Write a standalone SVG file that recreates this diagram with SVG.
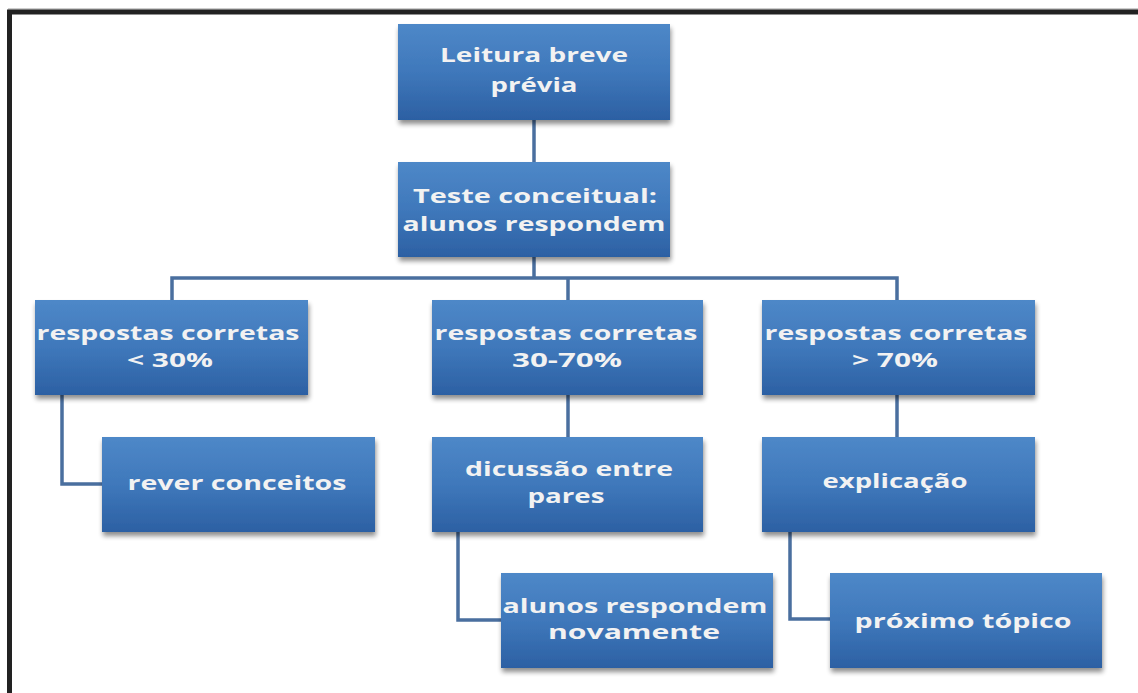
<svg xmlns="http://www.w3.org/2000/svg" width="1138" height="693" viewBox="0 0 1138 693">
<defs>
<linearGradient id="bg" x1="0" y1="0" x2="0" y2="1">
<stop offset="0" stop-color="#4e88c8"/>
<stop offset="0.5" stop-color="#3f78bb"/>
<stop offset="1" stop-color="#2c60a3"/>
</linearGradient>
<filter id="sh" x="-5%" y="-5%" width="112%" height="120%">
<feGaussianBlur in="SourceAlpha" stdDeviation="2.5"/>
<feOffset dx="1" dy="4" result="b"/>
<feComponentTransfer><feFuncA type="linear" slope="0.45"/></feComponentTransfer>
<feMerge><feMergeNode/><feMergeNode in="SourceGraphic"/></feMerge>
</filter>
</defs>
<style>
.box{fill:url(#bg);filter:url(#sh)}
.t{font-family:"Open Sans","Liberation Sans",sans-serif;font-weight:bold;font-size:20px;fill:#f2f2f2;text-anchor:middle}
.c{fill:none;stroke:#4a6f9f;stroke-width:3.5}
</style>
<rect x="0" y="0" width="1138" height="693" fill="#ffffff"/>
<line x1="8" y1="9" x2="1138" y2="9" stroke="#9a9a9a" stroke-width="1"/>
<path d="M9.5,693 V12 H1138" fill="none" stroke="#222222" stroke-width="5"/>
<g id="connectors">
<line class="c" x1="534" y1="120" x2="534" y2="162"/>
<line class="c" x1="534" y1="257" x2="534" y2="278"/>
<path class="c" d="M172,300 V278 H897 V300"/>
<line class="c" x1="568" y1="278" x2="568" y2="300"/>
<path class="c" d="M62,395 V484 H102"/>
<line class="c" x1="568" y1="395" x2="568" y2="437"/>
<line class="c" x1="897" y1="395" x2="897" y2="437"/>
<path class="c" d="M458,532 V620 H501"/>
<path class="c" d="M790,532 V619 H830"/>
</g>
<g id="n1"><rect class="box" x="398" y="24" width="272" height="96"/>
<text class="t" x="534" y="62" textLength="188" lengthAdjust="spacingAndGlyphs">Leitura breve</text>
<text class="t" x="534" y="92" textLength="87" lengthAdjust="spacingAndGlyphs">prévia</text></g>
<g id="n2"><rect class="box" x="398" y="162" width="272" height="95"/>
<text class="t" x="535" y="203" textLength="244" lengthAdjust="spacingAndGlyphs">Teste conceitual:</text>
<text class="t" x="534" y="231" textLength="263" lengthAdjust="spacingAndGlyphs">alunos respondem</text></g>
<g id="n3"><rect class="box" x="35" y="300" width="273" height="95"/>
<text class="t" x="168" y="340" textLength="263" lengthAdjust="spacingAndGlyphs">respostas corretas</text>
<text class="t" x="170" y="367" textLength="86" lengthAdjust="spacingAndGlyphs">&lt; 30%</text></g>
<g id="n4"><rect class="box" x="432" y="300" width="271" height="95"/>
<text class="t" x="566" y="340" textLength="263" lengthAdjust="spacingAndGlyphs">respostas corretas</text>
<text class="t" x="567" y="367" textLength="110" lengthAdjust="spacingAndGlyphs">30-70%</text></g>
<g id="n5"><rect class="box" x="762" y="300" width="273" height="95"/>
<text class="t" x="896" y="340" textLength="263" lengthAdjust="spacingAndGlyphs">respostas corretas</text>
<text class="t" x="895" y="367" textLength="86" lengthAdjust="spacingAndGlyphs">&gt; 70%</text></g>
<g id="n6"><rect class="box" x="102" y="437" width="273" height="95"/>
<text class="t" x="237" y="490" textLength="219" lengthAdjust="spacingAndGlyphs">rever conceitos</text></g>
<g id="n7"><rect class="box" x="432" y="437" width="271" height="95"/>
<text class="t" x="569" y="476" textLength="208" lengthAdjust="spacingAndGlyphs">dicussão entre</text>
<text class="t" x="566" y="503" textLength="77" lengthAdjust="spacingAndGlyphs">pares</text></g>
<g id="n8"><rect class="box" x="762" y="437" width="273" height="95"/>
<text class="t" x="895" y="488" textLength="145" lengthAdjust="spacingAndGlyphs">explicação</text></g>
<g id="n9"><rect class="box" x="501" y="573" width="272" height="95"/>
<text class="t" x="635" y="613" textLength="265" lengthAdjust="spacingAndGlyphs">alunos respondem</text>
<text class="t" x="634" y="639" textLength="172" lengthAdjust="spacingAndGlyphs">novamente</text></g>
<g id="n10"><rect class="box" x="830" y="573" width="272" height="95"/>
<text class="t" x="963" y="628" textLength="217" lengthAdjust="spacingAndGlyphs">próximo tópico</text></g>
</svg>
